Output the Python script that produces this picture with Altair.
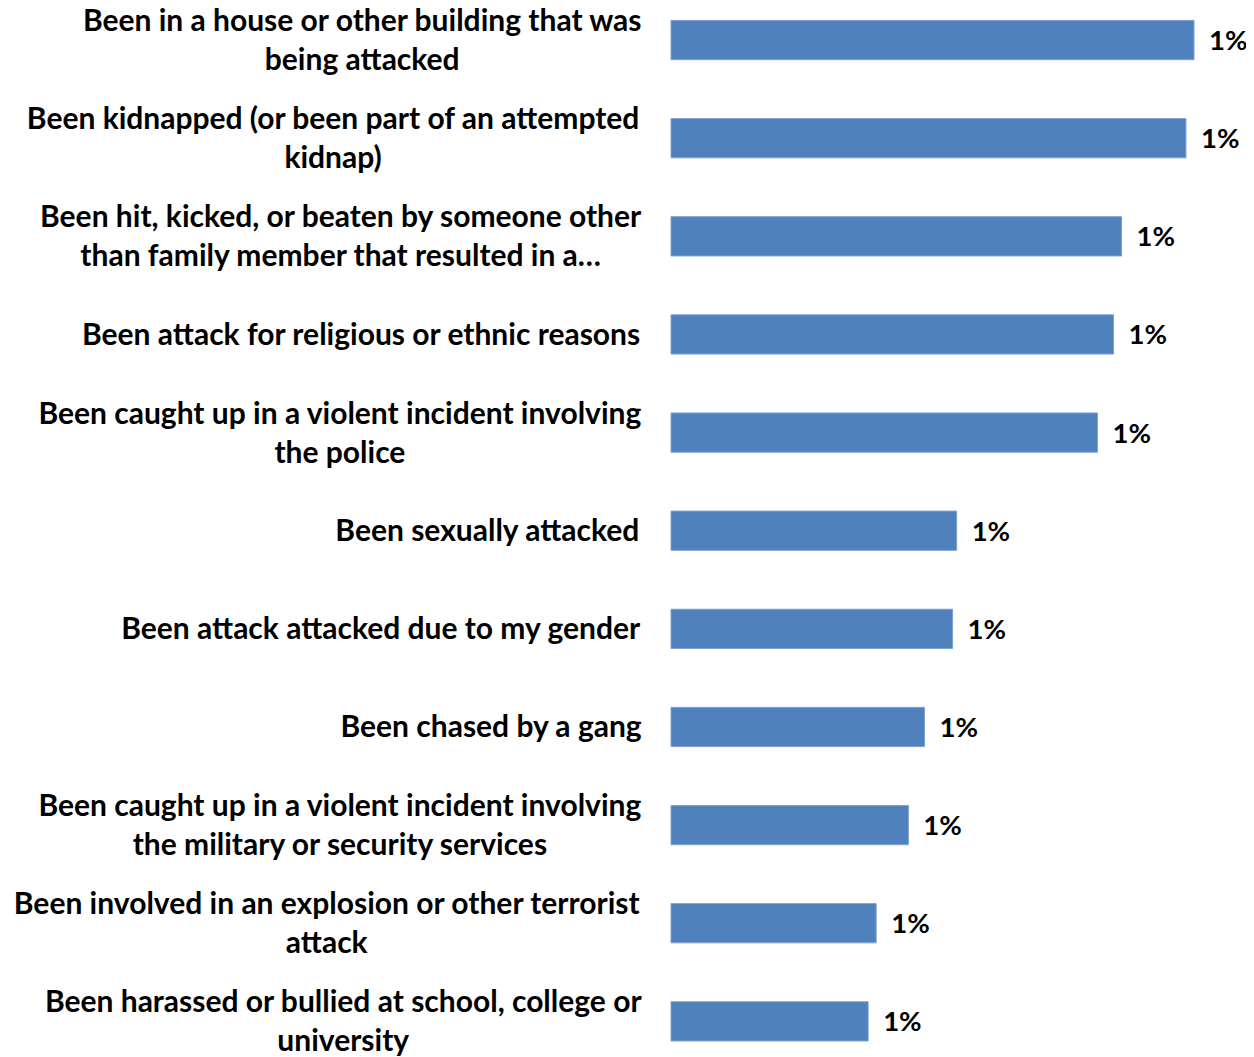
import altair as alt
import pandas as pd

categories = [
    "Been in a house or other building that was\nbeing attacked",
    "Been kidnapped (or been part of an attempted\nkidnap)",
    "Been hit, kicked, or beaten by someone other\nthan family member that resulted in a…",
    "Been attack for religious or ethnic reasons",
    "Been caught up in a violent incident involving\nthe police",
    "Been sexually attacked",
    "Been attack attacked due to my gender",
    "Been chased by a gang",
    "Been caught up in a violent incident involving\nthe military or security services",
    "Been involved in an explosion or other terrorist\nattack",
    "Been harassed or bullied at school, college or\nuniversity",
]
values = [1.30, 1.28, 1.12, 1.10, 1.06, 0.71, 0.70, 0.63, 0.59, 0.51, 0.49]
value_labels = ["1%"] * 11

FONT = "Lato"
FSIZE = 30
VSIZE = 27.5
LINE_H = 39
NUDGE = 1.5

# rough advance widths (em) of Lato Bold, used only to centre multi-line labels
W = {" ": 0.193, "a": 0.50, "b": 0.56, "c": 0.46, "d": 0.56, "e": 0.52, "f": 0.34,
     "g": 0.51, "h": 0.56, "i": 0.25, "j": 0.25, "k": 0.52, "l": 0.25, "m": 0.84,
     "n": 0.56, "o": 0.56, "p": 0.56, "q": 0.56, "r": 0.38, "s": 0.43, "t": 0.36,
     "u": 0.56, "v": 0.52, "w": 0.79, "x": 0.51, "y": 0.52, "z": 0.46, "B": 0.64,
     ",": 0.22, ".": 0.22, "(": 0.31, ")": 0.31, "…": 0.83}


def text_w(s):
    return sum(W.get(ch, 0.55) for ch in s) * FSIZE * 1.03


label_gap = 30
lines = [c.split("\n") for c in categories]
centres = [-label_gap - max(text_w(l) for l in ls) / 2 for ls in lines]

df = pd.DataFrame({
    "cat": [str(i) for i in range(len(categories))],
    "line1": [ls[0] for ls in lines],
    "line2": [ls[1] if len(ls) > 1 else "" for ls in lines],
    "nlines": [len(ls) for ls in lines],
    "value": values,
    "vlabel": value_labels,
    "cx": centres,
})

yenc = alt.Y("cat:N", sort=list(df["cat"]),
             scale=alt.Scale(paddingInner=0.6, paddingOuter=0.048, align=1),
             axis=None)
xenc = alt.X("value:Q", scale=alt.Scale(domain=[0, max(values)], nice=False, zero=True),
             axis=None)
cxenc = alt.X("cx:Q", scale=None, axis=None)

base = alt.Chart(df)

bars = base.mark_bar(color="#4F81BD", stroke="#7EA1D3", strokeWidth=1).encode(
    x=xenc, y=yenc)

txt = dict(font=FONT, fontWeight="bold", color="#000000", baseline="middle")

vtext = base.mark_text(align="left", dx=15, dy=2, fontSize=VSIZE, **txt).encode(
    x=xenc, y=yenc, text="vlabel:N")

single = base.transform_filter("datum.nlines == 1").mark_text(
    align="center", dy=NUDGE, fontSize=FSIZE, **txt).encode(
    x=cxenc, y=yenc, text="line1:N")
first = base.transform_filter("datum.nlines == 2").mark_text(
    align="center", dy=-LINE_H / 2 + NUDGE, fontSize=FSIZE, **txt).encode(
    x=cxenc, y=yenc, text="line1:N")
second = base.transform_filter("datum.nlines == 2").mark_text(
    align="center", dy=LINE_H / 2 + NUDGE, fontSize=FSIZE, **txt).encode(
    x=cxenc, y=yenc, text="line2:N")

chart = (bars + vtext + single + first + second).properties(
    width=523, height=1030,
    autosize=alt.AutoSizeParams(type="none"),
    padding={"left": 663, "right": 52, "top": 3, "bottom": 16},
).configure_view(stroke=None)

chart.save("out.html", embed_options={"renderer": "svg", "actions": False})
